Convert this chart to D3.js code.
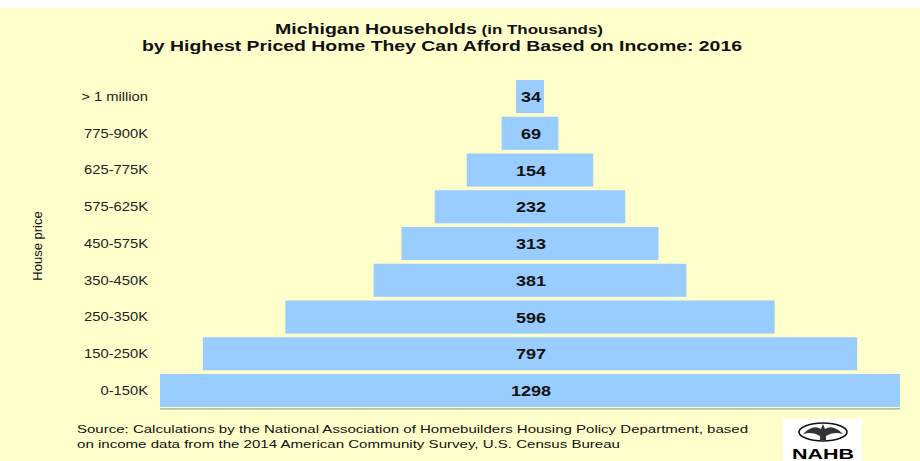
<!DOCTYPE html>
<html>
<head>
<meta charset="utf-8">
<script src="https://cdn.jsdelivr.net/npm/d3@7"></script>
<style>
  html, body { margin: 0; padding: 0; background: #ffffff; }
  svg { display: block; }
  text { font-family: "Liberation Sans", Arial, sans-serif; }
</style>
</head>
<body>
<script>
// ---- data ----
const categories = ["> 1 million", "775-900K", "625-775K", "575-625K", "450-575K",
                    "350-450K", "250-350K", "150-250K", "0-150K"];
const households = [34, 69, 154, 232, 313, 381, 596, 797, 1298];
const titleLine1 = "Michigan Households";
const titleLine1Small = " (in Thousands)";
const titleLine2 = "by Highest Priced Home They Can Afford Based on Income: 2016";
const yAxisTitle = "House price";
const sourceLines = [
  "Source: Calculations by the National Association of Homebuilders Housing Policy Department, based",
  "on income data from the 2014 American Community Survey, U.S. Census Bureau"
];

const W = 920, H = 461;
const plot = { left: 160, right: 900, top: 78.2, bottom: 408.9 };
const sx = 1.18; // horizontal stretch of the original picture

const svg = d3.select("body").append("svg").attr("width", W).attr("height", H);

// background
svg.append("rect").attr("x", 0).attr("y", 0).attr("width", W).attr("height", H).attr("fill", "#ffffff");
svg.append("rect").attr("x", 0).attr("y", 8).attr("width", W).attr("height", H - 8).attr("fill", "#FFFFCC");

// scales
const half = 450.7;
const x = d3.scaleLinear().domain([-half, half]).range([plot.left, plot.right]);
const y = d3.scaleBand().domain(categories).range([plot.top, plot.bottom])
  .paddingInner(0.1).paddingOuter(0.05);

svg.append("defs").append("clipPath").attr("id", "plotclip")
  .append("rect").attr("x", plot.left).attr("y", 0)
  .attr("width", plot.right - plot.left).attr("height", H);

const data = categories.map((c, i) => ({ cat: c, v: households[i] }));

// bars
svg.append("g").attr("clip-path", "url(#plotclip)")
  .selectAll("rect").data(data).join("rect")
  .attr("x", d => x(-d.v / 2))
  .attr("y", d => y(d.cat))
  .attr("width", d => x(d.v / 2) - x(-d.v / 2))
  .attr("height", y.bandwidth())
  .attr("fill", "#99CCFF");

// bottom axis line
svg.append("line")
  .attr("x1", plot.left).attr("x2", plot.right)
  .attr("y1", plot.bottom).attr("y2", plot.bottom)
  .attr("stroke", "#a8a890").attr("stroke-width", 1.2);

// value labels
svg.append("g").selectAll("text").data(data).join("text")
  .attr("transform", d => `translate(${x(0) + 1},${y(d.cat) + y.bandwidth() / 2 + 5.5}) scale(1.2,1)`)
  .attr("text-anchor", "middle")
  .attr("font-size", 15)
  .attr("font-weight", "bold")
  .attr("fill", "#111")
  .text(d => d3.format("d")(d.v));

// category axis (labels only)
const yAxis = d3.axisLeft(y).tickSize(0).tickPadding(0);
const gy = svg.append("g").attr("transform", `translate(148,0)`).call(yAxis);
gy.select(".domain").remove();
gy.selectAll(".tick text")
  .attr("font-family", "Liberation Sans, Arial, sans-serif")
  .attr("font-size", 12.5)
  .attr("fill", "#222")
  .attr("x", 0).attr("dy", "0.35em")
  .attr("transform", `scale(${sx},1)`)
  .attr("text-anchor", "end");

// y axis title
svg.append("text")
  .attr("transform", "translate(42,246) rotate(-90)")
  .attr("text-anchor", "middle")
  .attr("font-size", 13)
  .attr("fill", "#111")
  .text(yAxisTitle);

// title
const t1 = svg.append("text")
  .attr("x", 275).attr("y", 34)
  .attr("font-weight", "bold")
  .attr("fill", "#111")
  .attr("textLength", 328)
  .attr("lengthAdjust", "spacingAndGlyphs");
t1.append("tspan").attr("font-size", 15).text(titleLine1);
t1.append("tspan").attr("font-size", 13).text(titleLine1Small);

svg.append("text")
  .attr("x", 142).attr("y", 51)
  .attr("font-size", 14.5)
  .attr("font-weight", "bold")
  .attr("fill", "#111")
  .attr("textLength", 600)
  .attr("lengthAdjust", "spacingAndGlyphs")
  .text(titleLine2);

// source
const srcWidths = [671, 543];
svg.append("g").selectAll("text").data(sourceLines).join("text")
  .attr("x", 77)
  .attr("y", (d, i) => 433 + i * 14.5)
  .attr("font-size", 11.5)
  .attr("fill", "#111")
  .attr("textLength", (d, i) => srcWidths[i])
  .attr("lengthAdjust", "spacingAndGlyphs")
  .text(d => d);

// NAHB logo
const logo = svg.append("g");
logo.append("rect").attr("x", 783).attr("y", 419).attr("width", 79).attr("height", 42).attr("fill", "#ffffff");
logo.append("ellipse").attr("cx", 823).attr("cy", 432).attr("rx", 24).attr("ry", 9)
  .attr("fill", "none").attr("stroke", "#111").attr("stroke-width", 1.6);
logo.append("path")
  .attr("d", "M803,434 Q813,424 821,429 L823,424 L825,429 Q833,424 843,434 Q833,431 826,436 L826,440 L820,440 L820,436 Q813,431 803,434 Z")
  .attr("fill", "#333");
logo.append("text")
  .attr("x", 823).attr("y", 459)
  .attr("text-anchor", "middle")
  .attr("font-size", 15)
  .attr("font-weight", "bold")
  .attr("fill", "#000")
  .attr("textLength", 62)
  .attr("lengthAdjust", "spacingAndGlyphs")
  .text("NAHB");
</script>
</body>
</html>
